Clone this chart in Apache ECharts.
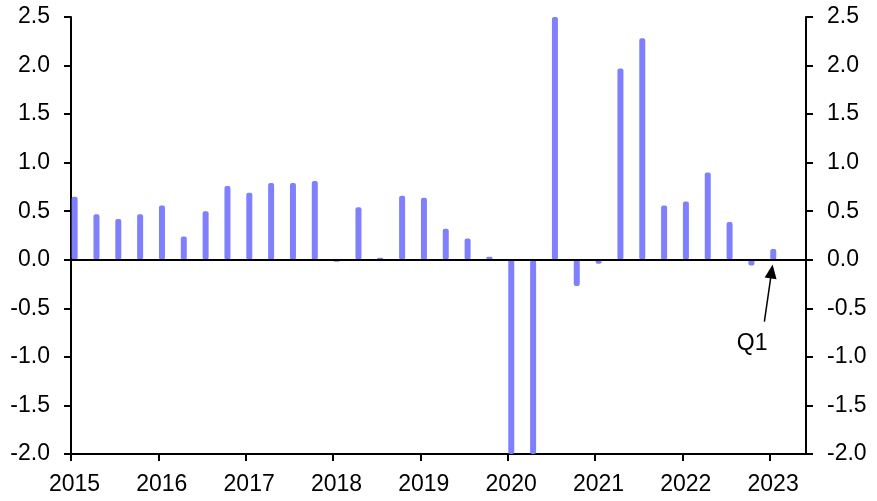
<!DOCTYPE html>
<html>
<head>
<meta charset="utf-8">
<script src="https://cdn.jsdelivr.net/npm/echarts@6/dist/echarts.min.js"></script>
<style>
html,body{margin:0;padding:0;background:#fff;}
#chart{width:877px;height:501px;}
</style>
</head>
<body>
<div id="chart"></div>
<script>
// Quarterly categories 2015Q1 .. 2023Q1
const quarters = [
  '2015Q1','2015Q2','2015Q3','2015Q4',
  '2016Q1','2016Q2','2016Q3','2016Q4',
  '2017Q1','2017Q2','2017Q3','2017Q4',
  '2018Q1','2018Q2','2018Q3','2018Q4',
  '2019Q1','2019Q2','2019Q3','2019Q4',
  '2020Q1','2020Q2','2020Q3','2020Q4',
  '2021Q1','2021Q2','2021Q3','2021Q4',
  '2022Q1','2022Q2','2022Q3','2022Q4',
  '2023Q1'
];
const values = [
  0.65, 0.47, 0.42, 0.47,
  0.56, 0.24, 0.50, 0.76,
  0.69, 0.79, 0.79, 0.81,
  -0.02, 0.54, 0.02, 0.66,
  0.64, 0.32, 0.22, 0.03,
  -2.0, -2.0, 2.5, -0.27,
  -0.04, 1.97, 2.28, 0.56,
  0.60, 0.90, 0.39, -0.06,
  0.11
];
const yearTicks = [2015, 2016, 2017, 2018, 2019, 2020, 2021, 2022, 2023];
const yTicks = [-2.0, -1.5, -1.0, -0.5, 0.0, 0.5, 1.0, 1.5, 2.0, 2.5];
const annotationText = 'Q1';
const annotationTip = [2023.023, -0.12];
const annotationTail = [2022.94, -0.636];
const annotationLabelAt = [2022.80, -0.865];

// quarter -> position on a continuous year axis (bar drawn in first month of quarter)
function qPos(q) {
  const y = parseInt(q.slice(0, 4), 10);
  const n = parseInt(q.slice(5), 10);
  return y + ((n - 1) * 3 + 0.5) / 12;
}
const barData = quarters.map((q, i) => [qPos(q), values[i]]);

const FONT = "'Liberation Sans', Arial, sans-serif";
const chart = echarts.init(document.getElementById('chart'), null, {renderer: 'canvas'});

const yAxisBase = {
  type: 'value',
  min: yTicks[0],
  max: yTicks[yTicks.length - 1],
  interval: 0.5,
  splitLine: {show: false},
  axisLine: {show: true, onZero: false, lineStyle: {color: '#000', width: 2}},
  axisTick: {show: true, inside: false, length: 7, lineStyle: {color: '#000', width: 2}},
  axisLabel: {
    color: '#000', fontFamily: FONT, fontSize: 23, margin: 21,
    formatter: v => v.toFixed(1)
  }
};

chart.setOption({
  animation: false,
  backgroundColor: '#fff',
  grid: {left: 71, right: 71, top: 17, bottom: 47, containLabel: false},
  xAxis: {
    type: 'value',
    min: yearTicks[0],
    max: yearTicks[yearTicks.length - 1] + 5 / 12,
    interval: 1,
    splitLine: {show: false},
    axisLine: {show: true, onZero: false, lineStyle: {color: '#000', width: 2}},
    axisTick: {show: true, length: 7, lineStyle: {color: '#000', width: 2}, customValues: yearTicks},
    axisLabel: {
      color: '#000', fontFamily: FONT, fontSize: 23, margin: 19,
      customValues: yearTicks, padding: [0, 0, 0, 7],
      formatter: v => String(Math.round(v))
    }
  },
  yAxis: [
    Object.assign({}, yAxisBase, {position: 'left'}),
    Object.assign({}, yAxisBase, {position: 'right'})
  ],
  series: [{
    type: 'bar',
    data: barData,
    barWidth: 6,
    itemStyle: {color: '#8080FF', borderRadius: 2},
    markLine: {
      silent: true,
      z: 10,
      symbol: ['none', 'none'],
      label: {show: false},
      data: [
        [{xAxis: yearTicks[0], yAxis: 0, lineStyle: {color: '#000', width: 2, type: 'solid'}},
         {xAxis: yearTicks[yearTicks.length - 1] + 5 / 12, yAxis: 0}],
        [{coord: annotationTail, symbol: 'none', lineStyle: {color: '#000', width: 1.5, type: 'solid'}},
         {coord: annotationTip, symbol: 'triangle', symbolSize: [12, 14]}]
      ]
    },
    markPoint: {
      silent: true,
      symbol: 'circle',
      symbolSize: 0,
      data: [{coord: annotationLabelAt, value: annotationText}],
      label: {show: true, position: 'inside', formatter: annotationText, color: '#000', fontFamily: FONT, fontSize: 23}
    }
  }]
});
</script>
</body>
</html>
